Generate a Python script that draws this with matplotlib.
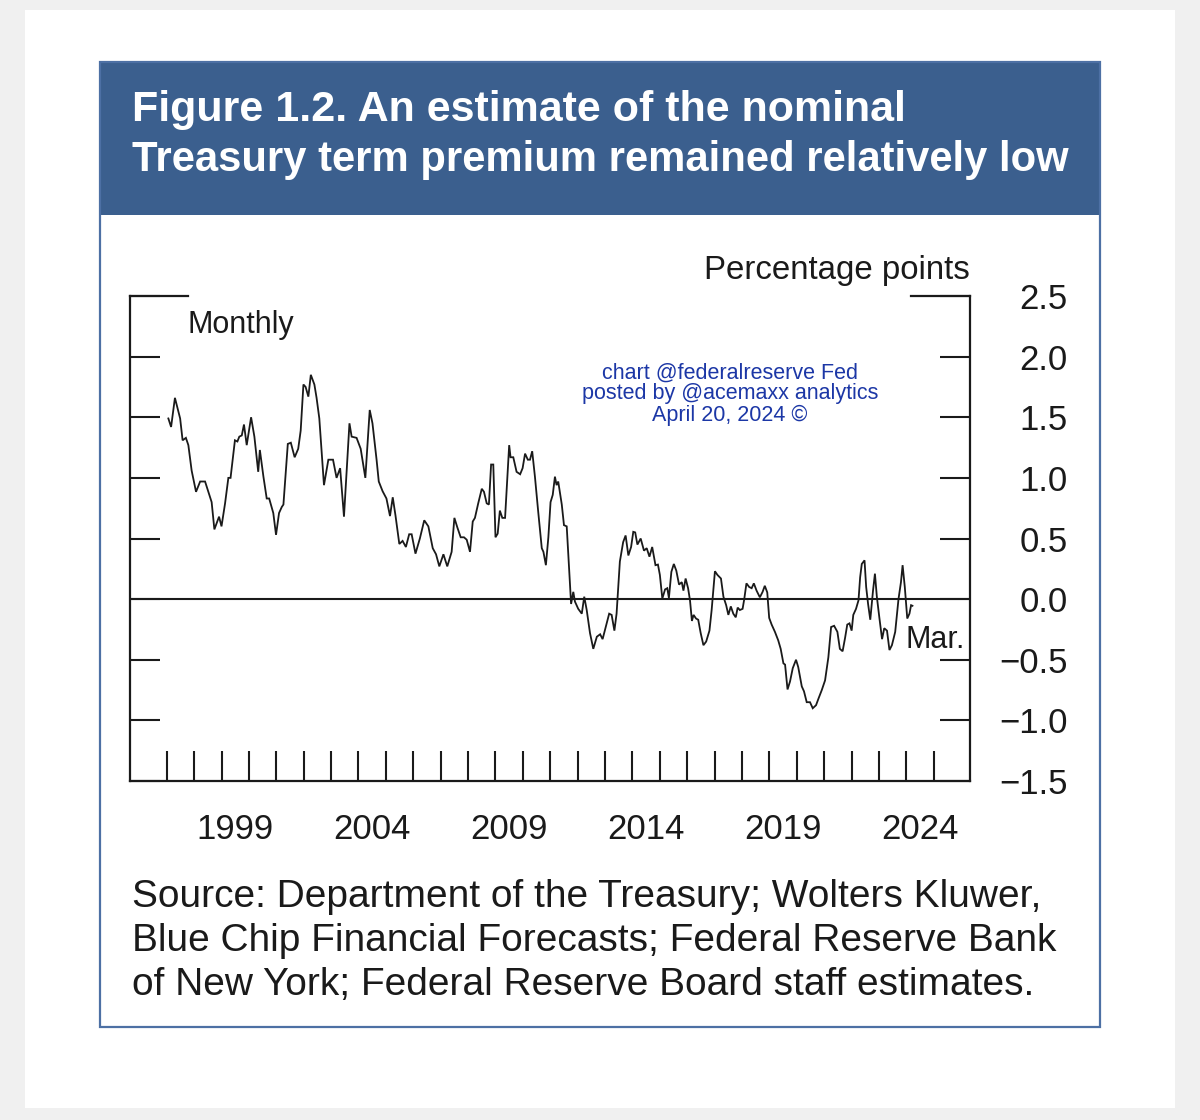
import matplotlib
matplotlib.use("Agg")
import matplotlib.pyplot as plt
from matplotlib.patches import Rectangle

# ---------------- data ----------------
dates = [
    1997.06, 1997.16, 1997.30, 1997.49, 1997.58, 1997.70, 1997.79, 1997.91,
    1998.07, 1998.22, 1998.40, 1998.52, 1998.64, 1998.74, 1998.91,
    1999.00, 1999.13, 1999.25, 1999.33, 1999.49, 1999.58, 1999.65, 1999.74, 1999.82, 1999.92,
    2000.08, 2000.20, 2000.34, 2000.40, 2000.53, 2000.65, 2000.74, 2000.89, 2000.99,
    2001.10, 2001.20, 2001.26, 2001.42, 2001.53, 2001.67, 2001.80, 2001.89, 2001.99,
    2002.07, 2002.17, 2002.26, 2002.39, 2002.47, 2002.57, 2002.74, 2002.90,
    2003.07, 2003.20, 2003.33, 2003.47, 2003.67, 2003.75, 2003.93,
    2004.08, 2004.25, 2004.41, 2004.51, 2004.66, 2004.74, 2004.88,
    2005.02, 2005.15, 2005.25, 2005.35, 2005.49, 2005.61, 2005.73, 2005.85, 2005.94,
    2006.08, 2006.24, 2006.40, 2006.55, 2006.71, 2006.83, 2006.95,
    2007.10, 2007.24, 2007.40, 2007.50, 2007.61, 2007.73, 2007.85, 2007.95,
    2008.07, 2008.17, 2008.25, 2008.37, 2008.50, 2008.58, 2008.68, 2008.76, 2008.84, 2008.92,
    2009.00, 2009.08, 2009.16, 2009.25, 2009.35, 2009.50, 2009.55, 2009.65, 2009.77, 2009.90, 2009.99,
    2010.08, 2010.18, 2010.26, 2010.34, 2010.44, 2010.56, 2010.69, 2010.75, 2010.84, 2010.93,
    2011.01, 2011.09, 2011.17, 2011.23, 2011.29, 2011.42, 2011.50, 2011.60, 2011.69, 2011.76, 2011.84, 2011.90,
    2012.02, 2012.15, 2012.24, 2012.33, 2012.45, 2012.57, 2012.70, 2012.82, 2012.91,
    2013.06, 2013.15, 2013.24, 2013.34, 2013.42, 2013.54, 2013.66, 2013.75, 2013.85, 2013.95,
    2014.03, 2014.10, 2014.18, 2014.30, 2014.42, 2014.52, 2014.62, 2014.72, 2014.84, 2014.93,
    2015.00, 2015.09, 2015.19, 2015.27, 2015.33, 2015.42, 2015.51, 2015.60, 2015.70, 2015.80, 2015.86, 2015.94,
    2016.03, 2016.10, 2016.17, 2016.23, 2016.32, 2016.40, 2016.49, 2016.59, 2016.69, 2016.81, 2016.89,
    2017.01, 2017.10, 2017.23, 2017.32, 2017.42, 2017.50, 2017.59, 2017.68, 2017.77, 2017.84, 2017.92,
    2018.02, 2018.08, 2018.16, 2018.26, 2018.35, 2018.43, 2018.53, 2018.65, 2018.75, 2018.83, 2018.92, 2018.99,
    2019.08, 2019.20, 2019.32, 2019.41, 2019.51, 2019.57, 2019.66, 2019.75, 2019.85, 2019.97,
    2020.05, 2020.18, 2020.26, 2020.36, 2020.48, 2020.58, 2020.70, 2020.79, 2020.91,
    2021.03, 2021.15, 2021.25, 2021.36, 2021.48, 2021.57, 2021.67, 2021.76, 2021.84, 2021.92,
    2022.00, 2022.06, 2022.16, 2022.25, 2022.31, 2022.37, 2022.47, 2022.53, 2022.60, 2022.68, 2022.78, 2022.85, 2022.92,
    2023.01, 2023.11, 2023.19, 2023.29, 2023.38, 2023.47, 2023.59, 2023.71, 2023.80, 2023.86, 2023.94,
    2024.03, 2024.11, 2024.17, 2024.22,
]
term_premium = [
    1.49, 1.42, 1.66, 1.49, 1.31, 1.33, 1.27, 1.06,
    0.885, 0.97, 0.97, 0.885, 0.80, 0.575, 0.68,
    0.60, 0.79, 1.00, 1.00, 1.31, 1.30, 1.34, 1.35, 1.44, 1.27,
    1.50, 1.34, 1.05, 1.23, 1.01, 0.83, 0.83, 0.71, 0.53,
    0.71, 0.76, 0.78, 1.28, 1.29, 1.17, 1.24, 1.39, 1.77,
    1.75, 1.67, 1.85, 1.77, 1.66, 1.49, 0.94, 1.15,
    1.15, 1.00, 1.08, 0.68, 1.45, 1.34, 1.33,
    1.24, 1.00, 1.56, 1.45, 1.15, 0.97, 0.89,
    0.83, 0.685, 0.84, 0.69, 0.455, 0.48, 0.43, 0.535, 0.535,
    0.375, 0.50, 0.65, 0.60, 0.42, 0.37, 0.27,
    0.37, 0.27, 0.39, 0.67, 0.59, 0.51, 0.51, 0.49,
    0.39, 0.64, 0.67, 0.79, 0.91, 0.885, 0.79, 0.78, 1.11, 1.11,
    0.51, 0.54, 0.73, 0.67, 0.67, 1.27, 1.17, 1.17, 1.05, 1.03, 1.08,
    1.20, 1.15, 1.15, 1.22, 1.01, 0.72, 0.42, 0.39, 0.28, 0.51,
    0.80, 0.86, 1.01, 0.94, 0.97, 0.78, 0.61, 0.60, 0.24, -0.04, 0.06, -0.02,
    -0.08, -0.12, 0.02, -0.09, -0.28, -0.41, -0.31, -0.29, -0.33,
    -0.20, -0.12, -0.13, -0.26, -0.12, 0.31, 0.47, 0.525, 0.36, 0.43,
    0.555, 0.55, 0.45, 0.50, 0.40, 0.42, 0.35, 0.43, 0.28, 0.285,
    0.20, 0.005, 0.08, 0.09, 0.01, 0.225, 0.29, 0.235, 0.12, 0.14, 0.07, 0.17,
    0.09, -0.01, -0.18, -0.13, -0.16, -0.17, -0.28, -0.38, -0.35, -0.26, -0.09,
    0.23, 0.20, 0.17, 0.02, -0.05, -0.13, -0.06, -0.12, -0.15, -0.07, -0.09,
    -0.08, 0.00, 0.13, 0.10, 0.09, 0.13, 0.07, 0.015, 0.06, 0.11, 0.055, -0.155,
    -0.21, -0.27, -0.34, -0.41, -0.53, -0.54, -0.745, -0.68, -0.57, -0.50,
    -0.56, -0.72, -0.76, -0.85, -0.85, -0.90, -0.875, -0.82, -0.75,
    -0.67, -0.48, -0.23, -0.22, -0.27, -0.41, -0.43, -0.32, -0.21, -0.20,
    -0.26, -0.13, -0.08, -0.01, 0.18, 0.29, 0.32, 0.10, -0.04, -0.17, 0.07, 0.21, 0.02,
    -0.15, -0.33, -0.24, -0.26, -0.42, -0.38, -0.27, 0.00, 0.14, 0.28, 0.10,
    -0.16, -0.12, -0.05, -0.055,
]

year_ticks = list(range(1997, 2026))
label_years = [1999, 2004, 2009, 2014, 2019, 2024]
y_ticks = [-1.5, -1.0, -0.5, 0.0, 0.5, 1.0, 1.5, 2.0, 2.5]
y_tick_labels = ["\u22121.5", "\u22121.0", "\u22120.5", "0.0", "0.5", "1.0", "1.5", "2.0", "2.5"]

title_lines = ["Figure 1.2. An estimate of the nominal",
               "Treasury term premium remained relatively low"]
source_lines = ["Source: Department of the Treasury; Wolters Kluwer,",
                "Blue Chip Financial Forecasts; Federal Reserve Bank",
                "of New York; Federal Reserve Board staff estimates."]
watermark = "chart @federalreserve Fed\nposted by @acemaxx analytics\nApril 20, 2024 \u00a9"

# ---------------- figure ----------------
W, H = 1200, 1120
plt.rcParams['font.family'] = ['Liberation Sans', 'DejaVu Sans']
fig = plt.figure(figsize=(W / 100, H / 100), dpi=100, facecolor='#f0f0f0')


def fx(x):
    return x / W


def fy(y):
    return 1 - y / H


# white panel, blue frame and header (drawn beneath the axes)
fig.patches.append(Rectangle((fx(25), fy(1108)), fx(1150), 1098 / H, transform=fig.transFigure,
                             fc='white', ec='none', zorder=-3))
fig.patches.append(Rectangle((fx(100), fy(215)), fx(1000), (215 - 62) / H, transform=fig.transFigure,
                             fc='#3b5f8e', ec='none', zorder=-2))
fig.patches.append(Rectangle((fx(100), fy(1027)), fx(1000), (1027 - 62) / H, transform=fig.transFigure,
                             fc='none', ec='#4d70a4', lw=1.6, zorder=-1))

ax = fig.add_axes([fx(130), fy(781), fx(840), 485 / H])
ax.set_zorder(2)
ax.set_facecolor('none')
ax.set_xlim(1995.66, 2026.32)
ax.set_ylim(-1.5, 2.5)

ax.plot(dates, term_premium, color='#1a1a1a', lw=1.3, solid_joinstyle='miter')
ax.axhline(0, color='#1a1a1a', lw=1.5)

for s in ['left', 'right', 'bottom']:
    ax.spines[s].set_linewidth(1.6)
    ax.spines[s].set_color('#1a1a1a')
ax.spines['top'].set_visible(False)
# partial top border (long ticks at 2.5)
ax.axhline(2.5, xmin=0, xmax=58 / 840, color='#1a1a1a', lw=1.6, clip_on=False)
ax.axhline(2.5, xmin=(911 - 130) / 840, xmax=1, color='#1a1a1a', lw=1.6, clip_on=False)

ax.set_yticks(y_ticks)
ax.set_yticklabels(y_tick_labels)
ax.tick_params(axis='y', which='major', direction='in', length=21.6, width=1.5, color='#1a1a1a',
               left=True, right=True, labelleft=False, labelright=True, pad=70.5,
               labelsize=25, labelcolor='#1a1a1a')
for lab in ax.get_yticklabels():
    lab.set_horizontalalignment('right')

ax.set_xticks(year_ticks)
ax.set_xticklabels([])
ax.set_xticks([y + 0.5 for y in label_years], minor=True)
ax.set_xticklabels([str(y) for y in label_years], minor=True)
ax.tick_params(axis='x', which='major', direction='in', length=21.6, width=1.5, color='#1a1a1a')
ax.tick_params(axis='x', which='minor', length=0, pad=23, labelsize=25, labelcolor='#1a1a1a')

# ---------------- texts ----------------
tcol = '#1a1a1a'
title_font = ['Liberation Sans Narrow', 'Liberation Sans', 'DejaVu Sans']
t1 = fig.text(fx(132), fy(110), title_lines[0], color='white', fontweight='bold', fontsize=30,
              family=title_font, va='center', ha='left')
t2 = fig.text(fx(132), fy(160), title_lines[1], color='white', fontweight='bold', fontsize=30,
              family=title_font, va='center', ha='left')

fig.text(fx(970), fy(270), "Percentage points", fontsize=23.8, color=tcol, ha='right', va='center')
fig.text(fx(188), fy(325), "Monthly", fontsize=22, color=tcol, ha='left', va='center')
fig.text(fx(905), fy(640), "Mar.", fontsize=22, color=tcol, ha='left', va='center')

fig.text(fx(730), fy(394), watermark, fontsize=15.5, color='#1c37a6', ha='center', va='center',
         multialignment='center', linespacing=1.0)

for i, line in enumerate(source_lines):
    fig.text(fx(132), fy(897 + 44 * i), line, fontsize=28, color=tcol, ha='left', va='center')

# fit title widths to the reference
fig.canvas.draw()
r = fig.canvas.get_renderer()
for t, target in [(t1, 776), (t2, 936)]:
    w = t.get_window_extent(r).width
    t.set_fontsize(t.get_fontsize() * target / w)

fig.savefig('out.png', dpi=100, facecolor=fig.get_facecolor())
